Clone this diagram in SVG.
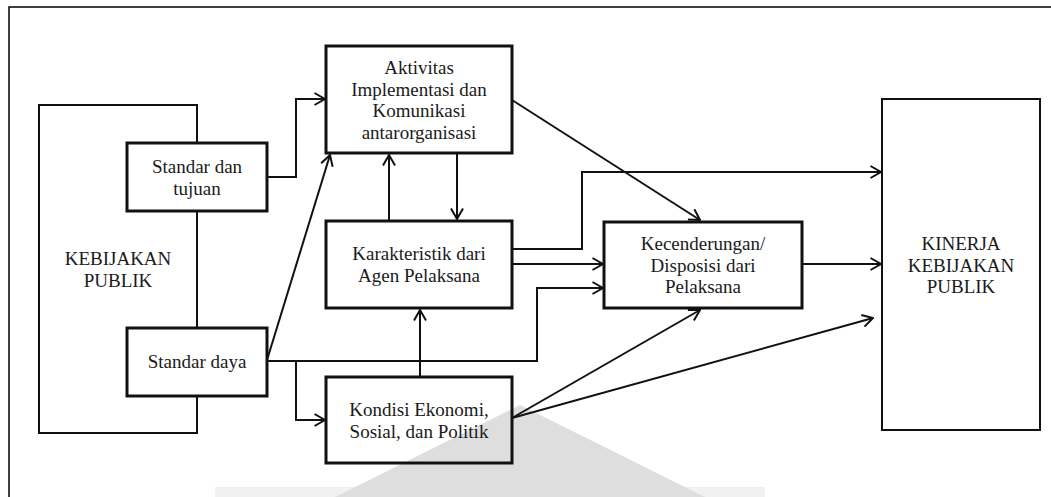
<svg xmlns="http://www.w3.org/2000/svg" width="1051" height="497" viewBox="0 0 1051 497">
  <style>
    .frame { fill: none; stroke: #000; stroke-width: 1.5; }
    .outer { fill: none; stroke: #111; stroke-width: 2; }
    .box { fill: none; stroke: #111; stroke-width: 3; }
    .boxw { fill: #fff; stroke: #111; stroke-width: 3; }
    .link { fill: none; stroke: #111; stroke-width: 2; marker-end: url(#arrow); }
    text { font-family: 'Liberation Serif', 'DejaVu Serif', 'Times New Roman', Times, serif; font-size: 19px; fill: #1a1a1a; text-anchor: middle; }
  </style>
  <defs>
    <marker id="arrow" viewBox="0 0 13 14" refX="11.5" refY="7" markerWidth="13" markerHeight="14" markerUnits="userSpaceOnUse" orient="auto">
      <path d="M1,1 L11.5,7 L1,13" fill="none" stroke="#111" stroke-width="2"/>
    </marker>
  </defs>

  <rect width="1051" height="497" fill="#fff"/>

  <!-- faint background emblem -->
  <g id="emblem">
    <rect x="215" y="487" width="550" height="10" fill="#f1f1f1"/>
    <polygon points="520,405 705,497 335,497" fill="#dedede"/>
  </g>

  <!-- page frame -->
  <path class="frame" d="M9,497 V7 H1051"/>

  <g id="kebijakan-publik">
    <rect class="outer" x="39" y="105" width="158" height="328"/>
    <text x="118" y="265" font-family="Liberation Serif, serif">KEBIJAKAN</text>
    <text x="118" y="287" font-family="Liberation Serif, serif">PUBLIK</text>
  </g>

  <g id="standar-tujuan">
    <rect class="boxw" x="127" y="143" width="140" height="68"/>
    <text x="197" y="173">Standar dan</text>
    <text x="197" y="195">tujuan</text>
  </g>

  <g id="standar-daya">
    <rect class="boxw" x="127" y="328" width="140" height="68"/>
    <text x="197" y="368">Standar daya</text>
  </g>

  <g id="aktivitas">
    <rect class="box" x="326" y="46" width="186" height="107"/>
    <text x="419" y="74">Aktivitas</text>
    <text x="419" y="95.5">Implementasi dan</text>
    <text x="419" y="117">Komunikasi</text>
    <text x="419" y="138.5">antarorganisasi</text>
  </g>

  <g id="karakteristik">
    <rect class="box" x="326" y="221" width="186" height="87"/>
    <text x="419" y="260">Karakteristik dari</text>
    <text x="419" y="282">Agen Pelaksana</text>
  </g>

  <g id="kondisi">
    <rect class="box" x="326" y="377" width="186" height="86"/>
    <text x="419" y="416">Kondisi Ekonomi,</text>
    <text x="419" y="438">Sosial, dan Politik</text>
  </g>

  <g id="kecenderungan">
    <rect class="box" x="604" y="222" width="198" height="86"/>
    <text x="703" y="250">Kecenderungan/</text>
    <text x="703" y="271.5">Disposisi dari</text>
    <text x="703" y="293">Pelaksana</text>
  </g>

  <g id="kinerja">
    <rect class="outer" x="882" y="99" width="158" height="331"/>
    <text x="961" y="250">KINERJA</text>
    <text x="961" y="271.5">KEBIJAKAN</text>
    <text x="961" y="293">PUBLIK</text>
  </g>

  <g id="connectors">
    <polyline class="link" points="267,177 296,177 296,99 325,99"/>
    <line class="link" x1="267" y1="360" x2="330" y2="155"/>
    <line class="link" x1="389" y1="221" x2="389" y2="155"/>
    <line class="link" x1="457" y1="153" x2="457" y2="219"/>
    <line class="link" x1="512" y1="100" x2="700" y2="220"/>
    <polyline class="link" points="512,249 582,249 582,172 881,172"/>
    <line class="link" x1="512" y1="264" x2="603" y2="264"/>
    <polyline class="link" points="267,361 537,361 537,288 603,288"/>
    <polyline class="link" points="296,361 296,420 325,420"/>
    <line class="link" x1="420" y1="377" x2="420" y2="310"/>
    <line class="link" x1="512" y1="418" x2="700" y2="310"/>
    <line class="link" x1="512" y1="418" x2="873" y2="318"/>
    <line class="link" x1="802" y1="264" x2="881" y2="264"/>
  </g>
</svg>
